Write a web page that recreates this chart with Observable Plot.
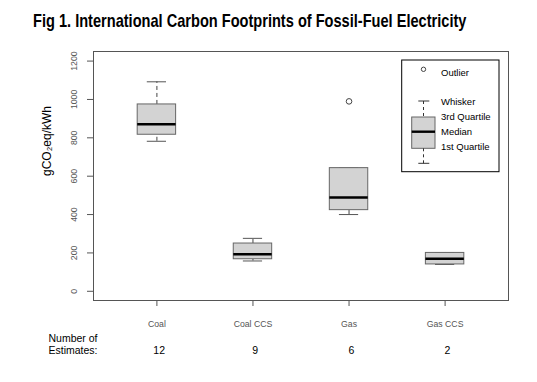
<!DOCTYPE html>
<html><head><meta charset="utf-8">
<script src="https://cdn.jsdelivr.net/npm/d3@7"></script>
<script src="https://cdn.jsdelivr.net/npm/@observablehq/plot@0.6"></script>
<style>
body{margin:0;background:#fff;}
#wrap{position:relative;width:537px;height:382px;overflow:hidden;background:#fff;}
#title{position:absolute;left:32.5px;top:11.8px;font-family:"Liberation Sans",Arial,sans-serif;font-weight:bold;font-size:17.8px;line-height:18px;transform:scaleX(0.82);transform-origin:0 0;white-space:nowrap;color:#000;}
#chart{position:absolute;left:0;top:40px;}
</style></head>
<body><div id="wrap"><div id="title">Fig 1. International Carbon Footprints of Fossil-Fuel Electricity</div><div id="chart"></div></div>
<script>
const categories = ["Coal", "Coal CCS", "Gas", "Gas CCS"];
const estimates = [12, 9, 6, 2];
const whiskerLow = [782, 158, 400, 140];
const quartile1 = [816, 167, 423, 140];
const medians = [871, 193, 489, 170];
const quartile3 = [974, 249, 642, 200];
const whiskerHigh = [1092, 276, 642, 200];
const outlierCategories = ["Gas"];
const outlierValues = [990];
const yTicks = [0, 200, 400, 600, 800, 1000, 1200];
const legendLabels = ["Outlier", "Whisker", "3rd Quartile", "Median", "1st Quartile"];
const countLabel = ["Number of", "Estimates:"];

const boxes = categories.map((c, i) => ({
  cat: c, pos: i + 1, n: estimates[i],
  lo: whiskerLow[i], q1: quartile1[i], med: medians[i], q3: quartile3[i], hi: whiskerHigh[i]
}));
const outliers = outlierCategories.map((c, i) => ({pos: categories.indexOf(c) + 1, value: outlierValues[i]}));
const half = 0.2, cap = 0.1;
const grey = "#555";

const plot = Plot.plot({
  width: 537, height: 342,
  marginLeft: 93, marginRight: 29, marginTop: 11, marginBottom: 82,
  style: {fontFamily: "'Liberation Sans', Arial, sans-serif", background: "#fff"},
  x: {type: "linear", domain: [0.34, 4.66], axis: null},
  y: {domain: [-48, 1250], axis: null},
  marks: [
    Plot.axisY({ticks: yTicks, tickFormat: d => String(d), tickSize: 6, tickPadding: 11, tickRotate: -90, fontSize: 8.7, color: grey, label: null}),
    Plot.axisX({ticks: [1, 2, 3, 4], tickFormat: d => categories[d - 1], tickSize: 6, tickPadding: 14, fontSize: 8.7, color: grey, label: null}),
    Plot.ruleX(boxes, {x: "pos", y1: "q3", y2: "hi", stroke: "#444", strokeDasharray: "4,3"}),
    Plot.ruleX(boxes, {x: "pos", y1: "lo", y2: "q1", stroke: "#444", strokeDasharray: "4,3"}),
    Plot.ruleY(boxes, {y: "hi", x1: d => d.pos - cap, x2: d => d.pos + cap, stroke: grey}),
    Plot.ruleY(boxes, {y: "lo", x1: d => d.pos - cap, x2: d => d.pos + cap, stroke: grey}),
    Plot.rect(boxes, {x1: d => d.pos - half, x2: d => d.pos + half, y1: "q1", y2: "q3", fill: "#d3d3d3", stroke: "#666"}),
    Plot.ruleY(boxes, {y: "med", x1: d => d.pos - half, x2: d => d.pos + half, stroke: "#000", strokeWidth: 2.6}),
    Plot.dot(outliers, {x: "pos", y: "value", r: 2.8, stroke: "#444", strokeWidth: 1, fill: "none"}),
    Plot.frame({stroke: grey}),
    Plot.text(["gCO₂eq/kWh"], {frameAnchor: "left", dx: -46, rotate: -90, fontSize: 12, fill: "#000"}),
    Plot.text(boxes, {x: "pos", text: d => String(d.n), frameAnchor: "bottom", dy: 53.5, dx: 2.3, fontSize: 10.5, fill: "#000"}),
    Plot.text([countLabel[0]], {frameAnchor: "bottom-left", dx: -45, dy: 41.5, textAnchor: "start", fontSize: 10.5, fill: "#000"}),
    Plot.text([countLabel[1]], {frameAnchor: "bottom-left", dx: -45, dy: 53.2, textAnchor: "start", fontSize: 10.5, fill: "#000"})
  ]
});
document.getElementById("chart").appendChild(plot);

// legend (page coordinates, svg starts at y=40)
const svg = d3.select(plot);
const g = svg.append("g").attr("transform", "translate(0,-40)").attr("font-family", "'Liberation Sans', Arial, sans-serif");
g.append("rect").attr("x", 401.7).attr("y", 60).attr("width", 97.3).attr("height", 111.7).attr("fill", "#fff").attr("stroke", "#000");
g.append("circle").attr("cx", 423.5).attr("cy", 69.3).attr("r", 2.2).attr("fill", "none").attr("stroke", "#444");
const cx = 423.5;
g.append("line").attr("x1", 418.3).attr("x2", 429.3).attr("y1", 101).attr("y2", 101).attr("stroke", "#333");
g.append("line").attr("x1", cx).attr("x2", cx).attr("y1", 101).attr("y2", 117).attr("stroke", "#333").attr("stroke-dasharray", "3,3");
g.append("rect").attr("x", 411.7).attr("y", 117).attr("width", 23.3).attr("height", 31.3).attr("fill", "#d3d3d3").attr("stroke", "#666");
g.append("line").attr("x1", 411.7).attr("x2", 435).attr("y1", 131.7).attr("y2", 131.7).attr("stroke", "#000").attr("stroke-width", 2.4);
g.append("line").attr("x1", cx).attr("x2", cx).attr("y1", 148.3).attr("y2", 163.3).attr("stroke", "#333").attr("stroke-dasharray", "3,3");
g.append("line").attr("x1", 418.3).attr("x2", 429.3).attr("y1", 163.3).attr("y2", 163.3).attr("stroke", "#333");
const ly = [72.3, 101.7, 116.7, 131.7, 146.7];
legendLabels.forEach((t, i) => {
  g.append("text").attr("x", 441).attr("y", ly[i]).attr("dy", "0.35em").attr("text-anchor", "start").attr("font-size", 9.5).attr("fill", "#000").text(t);
});
</script></body></html>
